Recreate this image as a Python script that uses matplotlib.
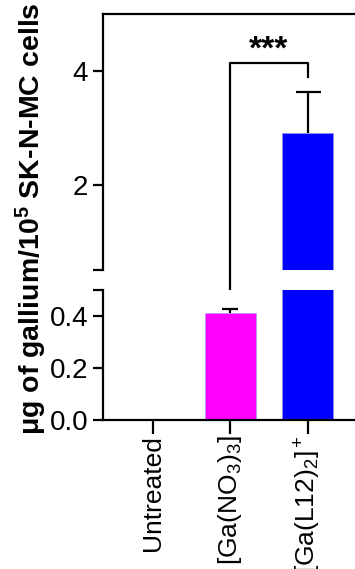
import matplotlib.pyplot as plt
import numpy as np

plt.rcParams['font.family'] = ['Liberation Sans', 'DejaVu Sans']
plt.rcParams['mathtext.fontset'] = 'custom'
plt.rcParams['mathtext.rm'] = 'Liberation Sans'
plt.rcParams['mathtext.it'] = 'Liberation Sans'
plt.rcParams['mathtext.bf'] = 'Liberation Sans:bold'

groups = ['Untreated', r'[Ga(NO$_3$)$_3$]', r'[Ga(L12)$_2$]$^+$']
means = [0.0, 0.41, 2.9]
sem = [0.0, 0.017, 0.73]
colors = ['#FF00FF', '#FF00FF', '#0000FF']
sig_pair = (1, 2)
sig_label = '***'

fig = plt.figure(figsize=(3.55, 5.69), dpi=100)
left, width = 0.290, 0.72
ax_top = fig.add_axes([left, 0.5255, width, 0.4499])
ax_bot = fig.add_axes([left, 0.2619, width, 0.2285])

x = np.arange(len(groups))
for ax in (ax_top, ax_bot):
    ax.bar(x, means, width=0.66, color=colors, edgecolor='#9999ff', linewidth=0.4)
    for i in range(len(groups)):
        if sem[i] > 0:
            eb = ax.errorbar(x[i], means[i], yerr=[[0], [sem[i]]], fmt='none',
                             ecolor='black', elinewidth=1.6, capthick=1.6,
                             capsize=6 if i == 1 else 9)
            eb[1][0].set_visible(False)  # no cap on the lower side
    ax.set_xlim(-0.65, 2.66)
    ax.spines['right'].set_visible(False)
    for s in ax.spines.values():
        s.set_linewidth(1.6)
    ax.tick_params(axis='both', width=1.6, length=7, labelsize=20)

ax_top.set_ylim(0.5, 5)
ax_top.set_yticks([0.5, 2, 4])
ax_top.set_yticklabels(['', '2', '4'])
ax_top.spines['bottom'].set_visible(False)
ax_top.tick_params(axis='x', bottom=False, labelbottom=False)

ax_bot.set_ylim(0, 0.5)
ax_bot.set_yticks([0, 0.2, 0.4, 0.5])
ax_bot.set_yticklabels(['0.0', '0.2', '0.4', ''])
ax_bot.spines['top'].set_visible(False)
ax_bot.set_xticks(x)
ax_bot.set_xticklabels(groups, rotation=90, fontsize=19)
ax_bot.tick_params(axis='x', length=10, pad=1)

# significance bracket spanning both axes
x1, x2 = sig_pair
fig.canvas.draw()
y_low = ax_top.transData.inverted().transform(
    ax_bot.transData.transform((x1, 0.473)))[1]
ax_top.plot([x1, x1, x2, x2], [y_low, 4.14, 4.14, 3.9], color='black',
            lw=1.6, clip_on=False)
ax_top.text((x1 + x2) / 2, 4.1, sig_label, ha='center', va='bottom',
            fontsize=24, fontweight='bold')

fig.text(0.088, 0.615, r'μg of gallium/10$^{\mathbf{5}}$ SK-N-MC cells',
         rotation=90, ha='center', va='center', fontsize=20.5, fontweight='bold')

fig.savefig('out.png', dpi=100)
